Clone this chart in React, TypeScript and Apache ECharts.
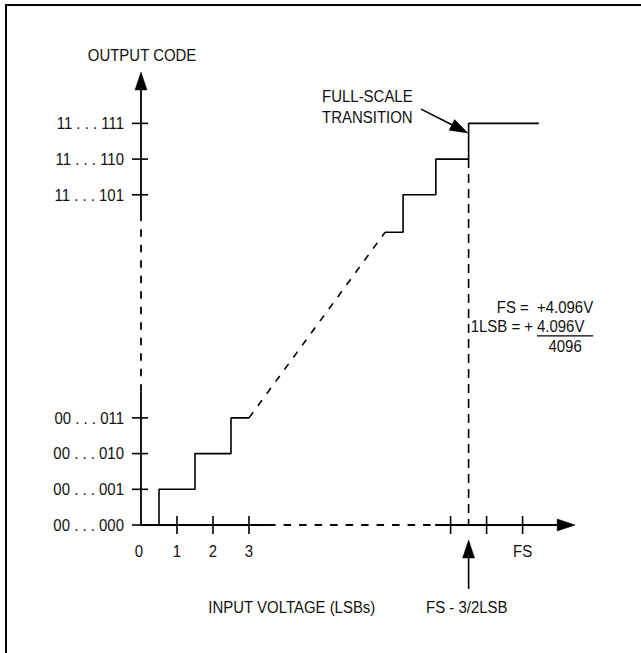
import React, { useEffect, useRef } from "react";
import * as echarts from "echarts";

// ---------- data (diagram units: x in LSBs, y in output codes) ----------
const lowSteps = [[0.5, 0], [0.5, 1], [1.5, 1], [1.5, 2], [2.5, 2], [2.5, 3], [3.0, 3]];
const rampGap = [[3.0, 3], [6.78, 8.2]];
const highSteps = [[6.78, 8.2], [7.28, 8.2], [7.28, 9.25], [8.19, 9.25], [8.19, 10.25], [9.1, 10.25], [9.1, 11.25], [11.05, 11.25]];
const fsDrop = [[9.1, 10.25], [9.1, 0]];

const yAxisSolidLow = [[0, 0], [0, 3.73]];
const yAxisGap = [[0, 3.73], [0, 8.52]];
const yAxisSolidHigh = [[0, 8.52], [0, 12.2]];
const xAxisSolidLeft = [[0, 0], [3.53, 0]];
const xAxisGap = [[3.53, 0], [8.17, 0]];
const xAxisSolidRight = [[8.17, 0], [11.6, 0]];

const codeLabels = ["00 . . . 000", "00 . . . 001", "00 . . . 010", "00 . . . 011", "11 . . . 101", "11 . . . 110", "11 . . . 111"];
const codeValues = [0, 1, 2, 3, 9.25, 10.25, 11.25];
const lsbLabels = ["0", "1", "2", "3", "FS"];
const lsbValues = [0, 1, 2, 3, 10.6];
const xTickValues = [1, 2, 3, 8.6, 9.6, 10.6];

// arrows: [tailX, tailY, tipX, tipY]
const arrows = [
  [0, 12.2, 0, 12.69],
  [11.6, 0, 12.06, 0],
  [9.1, -1.79, 9.1, -0.42],
  [7.78, 11.65, 9.08, 10.98],
];

// annotations (anchor in diagram units)
const noteTexts = ["OUTPUT CODE", "FULL-SCALE", "TRANSITION", "FS =  +4.096V", "1LSB = +", "4.096V", "4096", "INPUT VOLTAGE (LSBs)", "FS - 3/2LSB"];
const noteAnchors = [[0.03, 13.15], [5.03, 12.0], [5.03, 11.43], [12.56, 6.09], [10.89, 5.57], [11.0, 5.57], [11.78, 5.0], [4.19, -2.3], [9.05, -2.3]];
const noteAligns = ["center", "left", "left", "right", "right", "left", "center", "center", "center"];
const fractionBar = [[11.0, 5.3], [12.56, 5.3]];

// ---------- layout ----------
const W = 641, H = 653;
const PX0 = 141, PUX = 36, PY0 = 525, PUY = 35.7;
const X_MIN = -3, X_MAX = 13, Y_MIN = -3, Y_MAX = 14;
const FONT = "'Liberation Sans', Arial, sans-serif";
const FS = 17;
const SX = 0.88;
const INK = "#000";
const TXT = "#111";

function lineSeries(data: number[][], dashed: boolean | number[], width = 1.6) {
  return {
    type: "line",
    data,
    symbol: "none",
    showSymbol: false,
    silent: true,
    clip: false,
    animation: false,
    lineStyle: { color: INK, width, type: dashed ? (Array.isArray(dashed) ? dashed : [7, 8]) : "solid" },
    z: 2,
  };
}

function textEl(x: number, y: number, text: string, align: string) {
  return {
    type: "text",
    x,
    y,
    scaleX: SX,
    style: { text, fill: TXT, fontSize: FS, fontFamily: FONT, align, verticalAlign: "middle" },
  };
}

export default function App() {
  const ref = useRef<HTMLDivElement>(null);
  useEffect(() => {
    if (!ref.current) return;
    const chart = echarts.init(ref.current, null, { renderer: "svg" });

    const tickData = [
      ...xTickValues.map((v) => [v, 0, 0]),
      ...codeValues.map((v) => [0, v, 1]),
    ];
    const yLabelData = codeValues.map((v) => [0, v]);
    const xLabelData = lsbValues.map((v) => [v, 0]);

    const option: any = {
      animation: false,
      backgroundColor: "#fff",
      graphic: [
        { type: "line", silent: true, shape: { x1: 5, y1: 5, x2: W + 2, y2: 5 }, style: { stroke: INK, lineWidth: 2 } },
        { type: "line", silent: true, shape: { x1: 6, y1: 4, x2: 6, y2: H + 2 }, style: { stroke: INK, lineWidth: 2 } },
      ],
      grid: {
        left: PX0 + X_MIN * PUX,
        right: W - (PX0 + X_MAX * PUX),
        top: PY0 - Y_MAX * PUY,
        bottom: H - (PY0 - Y_MIN * PUY),
      },
      xAxis: { type: "value", min: X_MIN, max: X_MAX, show: false },
      yAxis: { type: "value", min: Y_MIN, max: Y_MAX, show: false },
      series: [
        lineSeries(yAxisSolidLow, false, 1.8),
        lineSeries(yAxisGap, [7.5, 8], 1.8),
        lineSeries(yAxisSolidHigh, false, 1.8),
        lineSeries(xAxisSolidLeft, false, 1.8),
        lineSeries(xAxisGap, [7.5, 8], 1.8),
        lineSeries(xAxisSolidRight, false, 1.8),
        lineSeries(lowSteps, false),
        lineSeries(rampGap, [7, 8]),
        lineSeries(highSteps, false),
        lineSeries(fsDrop, [9, 6]),
        lineSeries(fractionBar, false, 1.3),
        {
          type: "custom",
          silent: true,
          clip: false,
          data: tickData,
          encode: { x: 0, y: 1 },
          renderItem: (params: any, api: any) => {
            const p = api.coord([api.value(0), api.value(1)]);
            const dir = api.value(2);
            const shape = dir === 0
              ? { x1: p[0], y1: p[1] - 9, x2: p[0], y2: p[1] + 9 }
              : { x1: p[0] - 9, y1: p[1], x2: p[0] + 7, y2: p[1] };
            return { type: "line", shape, style: { stroke: INK, lineWidth: 1.6 } };
          },
          z: 3,
        },
        {
          type: "custom",
          silent: true,
          clip: false,
          data: arrows,
          encode: { x: [0, 2], y: [1, 3] },
          renderItem: (params: any, api: any) => {
            const t = api.coord([api.value(0), api.value(1)]);
            const h = api.coord([api.value(2), api.value(3)]);
            const dx = h[0] - t[0], dy = h[1] - t[1];
            const len = Math.sqrt(dx * dx + dy * dy) || 1;
            const ux = dx / len, uy = dy / len;
            const HL = 18, HW = 6;
            const bx = h[0] - ux * HL, by = h[1] - uy * HL;
            const nx = -uy, ny = ux;
            const children: any[] = [
              {
                type: "polygon",
                shape: { points: [[h[0], h[1]], [bx + nx * HW, by + ny * HW], [bx - nx * HW, by - ny * HW]] },
                style: { fill: INK, stroke: INK, lineWidth: 0.5 },
              },
            ];
            if (len > HL + 1) {
              children.push({
                type: "line",
                shape: { x1: t[0], y1: t[1], x2: bx, y2: by },
                style: { stroke: INK, lineWidth: 1.6 },
              });
            }
            return { type: "group", children };
          },
          z: 4,
        },
        {
          type: "custom",
          silent: true,
          clip: false,
          data: yLabelData,
          encode: { x: 0, y: 1 },
          renderItem: (params: any, api: any) => {
            const p = api.coord([api.value(0), api.value(1)]);
            return textEl(p[0] - 17, p[1], codeLabels[params.dataIndex], "right");
          },
          z: 5,
        },
        {
          type: "custom",
          silent: true,
          clip: false,
          data: xLabelData,
          encode: { x: 0, y: 1 },
          renderItem: (params: any, api: any) => {
            const p = api.coord([api.value(0), api.value(1)]);
            return textEl(p[0] - (params.dataIndex === 0 ? 2 : 0), p[1] + 26, lsbLabels[params.dataIndex], "center");
          },
          z: 5,
        },
        {
          type: "custom",
          silent: true,
          clip: false,
          data: noteAnchors,
          encode: { x: 0, y: 1 },
          renderItem: (params: any, api: any) => {
            const p = api.coord([api.value(0), api.value(1)]);
            return textEl(p[0], p[1], noteTexts[params.dataIndex], noteAligns[params.dataIndex]);
          },
          z: 5,
        },
      ],
    };
    chart.setOption(option);
    return () => chart.dispose();
  }, []);

  return (
    <div style={{ position: "fixed", left: 0, top: 0, width: W, height: H, background: "#fff", overflow: "hidden" }}>
      <div ref={ref} style={{ position: "absolute", left: 0, top: 0, width: W, height: H }} />
    </div>
  );
}
